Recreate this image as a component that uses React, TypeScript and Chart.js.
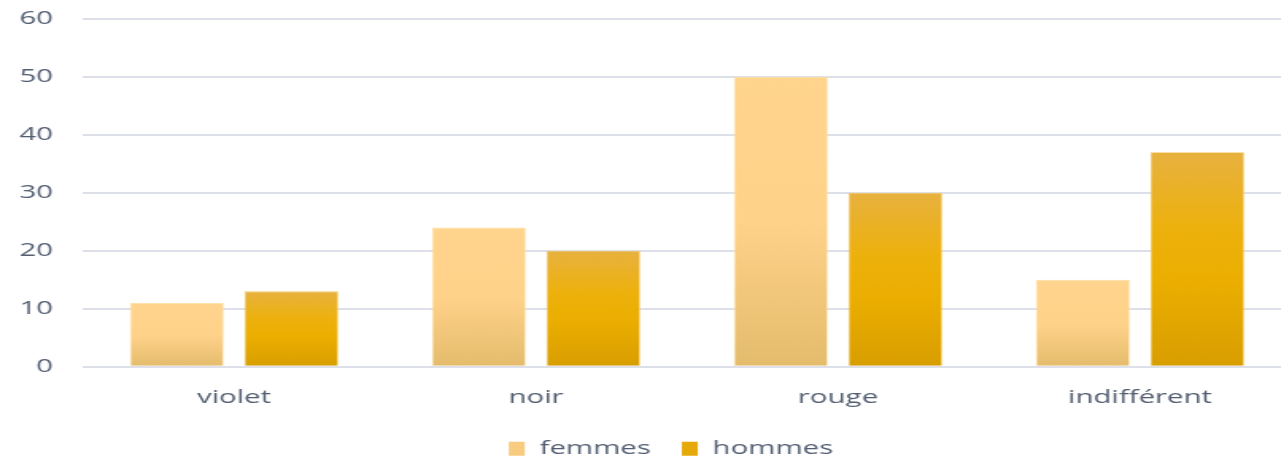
import { useEffect, useRef } from 'react';
import { Chart, registerables } from 'chart.js';

Chart.register(...registerables);

// ---- data ----
const categories = ['violet', 'noir', 'rouge', 'indifférent'];
const femmes = [11, 24, 50, 15];
const hommes = [13, 20, 30, 37];
const yMin = 0;
const yMax = 60;
const yStep = 10;
const seriesNames = ['femmes', 'hommes'];

// ---- layout / style ----
const STRETCH = 1.59; // reference is horizontally stretched
const DISPLAY_W = 1300;
const H = 462;
const W = Math.round(DISPLAY_W / STRETCH);
const K = DISPLAY_W / W; // exact display px per canvas px
const TEXT = '#535E72';
const FONT = '"Open Sans", sans-serif';
const FS = 18.5;

const femmesStops: [number, string][] = [
  [0, '#FFD48C'],
  [0.5, '#FFD28A'],
  [1, '#E4BC6C'],
];
const hommesStops: [number, string][] = [
  [0, '#E7B13F'],
  [0.35, '#EDB10E'],
  [0.6, '#EBAE00'],
  [1, '#D89E00'],
];

function barGradient(stops: [number, string][], fallback: string) {
  return (c: any) => {
    const chart = c.chart;
    const ys = chart.scales && chart.scales.y;
    if (!chart.chartArea || !ys || c.raw === undefined) return fallback;
    const top = ys.getPixelForValue(c.raw);
    const bottom = ys.getPixelForValue(0);
    if (!isFinite(top) || !isFinite(bottom) || top === bottom) return fallback;
    const g = chart.ctx.createLinearGradient(0, top, 0, bottom);
    stops.forEach(([o, col]) => g.addColorStop(o, col));
    return g;
  };
}

const legendShift = {
  id: 'legendShift',
  afterLayout(chart: any) {
    const lg = chart.legend;
    if (!lg) return;
    const d = 16 / K;
    lg.left -= d;
    lg.right -= d;
  },
};

export default function App() {
  const ref = useRef<HTMLCanvasElement>(null);

  useEffect(() => {
    if (!ref.current) return;
    const chart = new Chart(ref.current, {
      type: 'bar',
      data: {
        labels: categories,
        datasets: [
          {
            label: seriesNames[0],
            data: femmes,
            backgroundColor: barGradient(femmesStops, '#F8CD80'),
            borderColor: '#FFDDA0',
            borderWidth: 0.8,
            categoryPercentage: 0.758,
            barPercentage: 0.82,
          },
          {
            label: seriesNames[1],
            data: hommes,
            backgroundColor: barGradient(hommesStops, '#E6A800'),
            borderColor: '#F4C75E',
            borderWidth: 0.8,
            categoryPercentage: 0.758,
            barPercentage: 0.82,
          },
        ],
      },
      options: {
        responsive: false,
        animation: false,
        devicePixelRatio: 1,
        layout: { padding: { top: 0, right: W - 1291 / K, left: 0, bottom: -6.1 } },
        scales: {
          x: {
            grid: { display: false, drawTicks: false },
            border: { display: false },
            ticks: { color: TEXT, font: { family: FONT, size: FS }, padding: 19.5 },
            afterFit: (s: any) => {
              s.height = 53.4;
            },
          },
          y: {
            min: yMin,
            max: yMax,
            grid: { color: '#DDE0E8', lineWidth: 2, drawTicks: false },
            border: { display: false },
            ticks: { stepSize: yStep, color: TEXT, font: { family: FONT, size: FS }, padding: 30 / K },
            afterFit: (s: any) => {
              s.width = 83 / K;
              s.paddingTop = 19;
              s.paddingBottom = 11;
            },
          },
        },
        plugins: {
          tooltip: { enabled: false },
          legend: {
            position: 'bottom',
            fullSize: false,
            labels: {
              color: TEXT,
              font: { family: FONT, size: FS },
              boxWidth: 16 / K,
              boxHeight: 14,
              padding: 31 / K,
              generateLabels: (ch: any) => {
                const items = Chart.defaults.plugins.legend.labels.generateLabels(ch);
                const solids = ['#F7CC80', '#E6A90A'];
                return items.map((it: any, i: number) => ({
                  ...it,
                  fillStyle: solids[i],
                  strokeStyle: solids[i],
                  lineWidth: 0,
                }));
              },
            },
          },
        },
      },
      plugins: [legendShift],
    });
    return () => chart.destroy();
  }, []);

  return (
    <div
      style={{
        position: 'fixed',
        left: 0,
        top: 0,
        width: 1281,
        height: H,
        overflow: 'hidden',
        background: '#fff',
      }}
    >
      <canvas
        ref={ref}
        width={W}
        height={H}
        style={{ width: DISPLAY_W + 'px', height: H + 'px', display: 'block' }}
      />
    </div>
  );
}
